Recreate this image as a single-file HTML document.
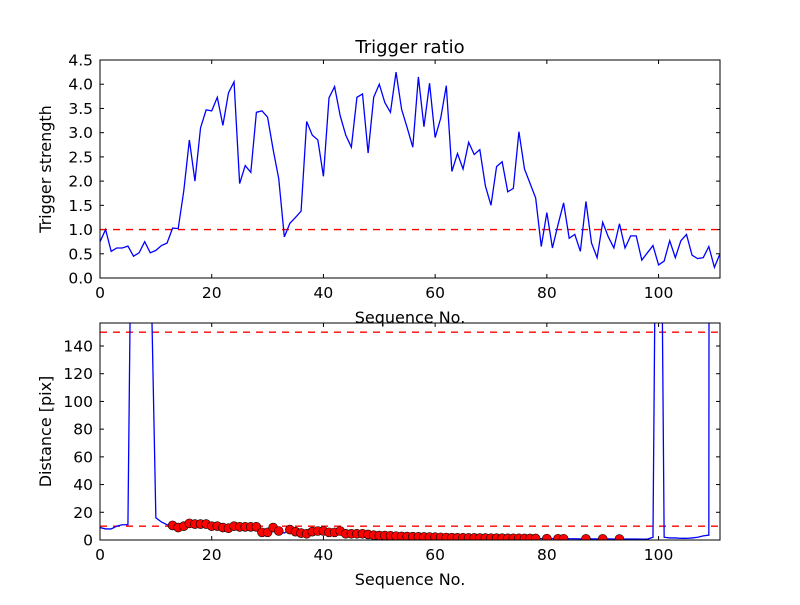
<!DOCTYPE html>
<html><head><meta charset="utf-8"><style>
body{margin:0;background:#fff;}
svg text{font-family:"DejaVu Sans","Liberation Sans",sans-serif;fill:#000;}
</style></head><body>
<svg id="c" width="800" height="600" xmlns="http://www.w3.org/2000/svg"></svg>
<script>
const ratioValues=[0.75,1.0,0.55,0.62,0.62,0.66,0.45,0.52,0.75,0.52,0.57,0.67,0.72,1.03,1.02,1.8,2.85,2.0,3.1,3.47,3.45,3.73,3.15,3.82,4.05,1.95,2.32,2.18,3.42,3.45,3.32,2.65,2.05,0.85,1.13,1.25,1.38,3.23,2.95,2.85,2.1,3.72,3.95,3.35,2.95,2.7,3.73,3.8,2.58,3.73,4.0,3.62,3.42,4.25,3.48,3.1,2.7,4.15,3.12,4.02,2.9,3.3,3.97,2.2,2.57,2.25,2.8,2.55,2.65,1.9,1.5,2.3,2.4,1.78,1.85,3.02,2.25,1.95,1.65,0.65,1.35,0.62,1.1,1.55,0.82,0.9,0.55,1.58,0.72,0.42,1.15,0.85,0.62,1.12,0.62,0.87,0.87,0.37,0.52,0.67,0.27,0.35,0.77,0.42,0.77,0.9,0.47,0.4,0.42,0.65,0.22,0.5];
const distanceValues=[9,8,8,10,11,11,400,600,600,220,16,13,11,10.5,9,10,12,11.5,11.5,11.5,10,10,9,8.5,10,9.5,9.5,9.5,9.5,5.5,5.5,9,6.5,5,7.5,6,5,4.5,6,6.5,6.5,5.5,5.5,6.5,4.5,4.5,4.5,4.5,4,3.5,3.2,3.2,3,2.8,2.6,2.5,2.4,2.3,2.2,2.1,2,1.9,1.8,1.7,1.6,1.6,1.5,1.5,1.4,1.4,1.3,1.3,1.3,1.2,1.2,1.2,1.1,1.1,1.1,1,1,1,0.9,0.9,0.9,0.9,0.8,0.8,0.8,0.8,0.8,0.8,0.7,0.7,0.7,0.7,0.7,0.6,0.6,2,500,2,1.5,1.5,1.2,1.2,1.5,2,3,3.5,5000,5000];
const ratioTicks=[0,0.5,1,1.5,2,2.5,3,3.5,4,4.5];
const distTicks=[0,20,40,60,80,100,120,140];
const xTicks=[0,20,40,60,80,100];
const ratioThreshold=[1.0];
const distThresholds=[10,150];

const svg=document.getElementById('c');
const NS='http://www.w3.org/2000/svg';
function el(t,a,p){const e=document.createElementNS(NS,t);for(const k in a)e.setAttribute(k,a[k]);(p||svg).appendChild(e);return e;}
const L=100,R=720,XMAX=111;
const xs=v=>L+v*(R-L)/XMAX;

function panel(top,bot,ymax,yt,fmt,ylabel,name){
  const ys=v=>bot-v*(bot-top)/ymax;
  const g=el('g',{});
  
  
  const cp=el('clipPath',{id:'cp'+name},g);el('rect',{x:L,y:top,width:R-L,height:bot-top},cp);
  yt.forEach(v=>{const y=ys(v);
    el('line',{x1:L,x2:L+4,y1:y,y2:y,stroke:'#000'},g);el('line',{x1:R,x2:R-4,y1:y,y2:y,stroke:'#000'},g);
    const t=el('text',{x:L-7,y:y+5.5,'text-anchor':'end','font-size':15.5},g);t.textContent=fmt(v);
    });
  xTicks.forEach(v=>{const x=xs(v);
    el('line',{x1:x,x2:x,y1:bot,y2:bot-4,stroke:'#000'},g);el('line',{x1:x,x2:x,y1:top,y2:top+4,stroke:'#000'},g);
    const t=el('text',{x:x,y:bot+20,'text-anchor':'middle','font-size':15.5},g);t.textContent=v;
    });
  const yl=el('text',{x:0,y:0,'text-anchor':'middle','font-size':16,transform:`translate(${L-49},${(top+bot)/2}) rotate(-90)`},g);
  yl.textContent=ylabel;
  const xl=el('text',{x:(L+R)/2,y:bot+45,'text-anchor':'middle','font-size':16},g);
  xl.textContent='Sequence No.';
  return {g,ys,clip:'url(#cp'+name+')'};
}
const p1=panel(60,278,4.5,ratioTicks,v=>v.toFixed(1),'Trigger strength','ratio-panel');
ratioThreshold.forEach(v=>{const l=el('line',{x1:L,x2:R,y1:p1.ys(v),y2:p1.ys(v),stroke:'#ff0000','stroke-width':1.4,'stroke-dasharray':'7,6'},p1.g);
  });
const l1=el('polyline',{points:ratioValues.map((v,i)=>xs(i)+','+p1.ys(v)).join(' '),fill:'none',stroke:'#00f','stroke-width':1.3,'clip-path':p1.clip},p1.g);

el('rect',{x:L,y:60,width:R-L,height:218,fill:'none',stroke:'#000'},p1.g);
const tt=el('text',{x:410,y:53,'text-anchor':'middle','font-size':18},p1.g);tt.textContent='Trigger ratio';

const p2=panel(323,540,156.6,distTicks,v=>v,'Distance [pix]','distance-panel');
distThresholds.forEach(v=>{const l=el('line',{x1:L,x2:R,y1:p2.ys(v),y2:p2.ys(v),stroke:'#ff0000','stroke-width':1.4,'stroke-dasharray':'7,6'},p2.g);
  });
const l2=el('polyline',{points:distanceValues.map((v,i)=>xs(i)+','+p2.ys(v)).join(' '),fill:'none',stroke:'#00f','stroke-width':1.3,'clip-path':p2.clip},p2.g);

distanceValues.forEach((v,i)=>{if(ratioValues[i]>1){
  const c=el('circle',{cx:xs(i),cy:p2.ys(v),r:4.5,fill:'#f00',stroke:'#000','stroke-width':0.6,'clip-path':p2.clip},p2.g);
  }});
el('rect',{x:L,y:323,width:R-L,height:217,fill:'none',stroke:'#000'},p2.g);
</script>
</body></html>
